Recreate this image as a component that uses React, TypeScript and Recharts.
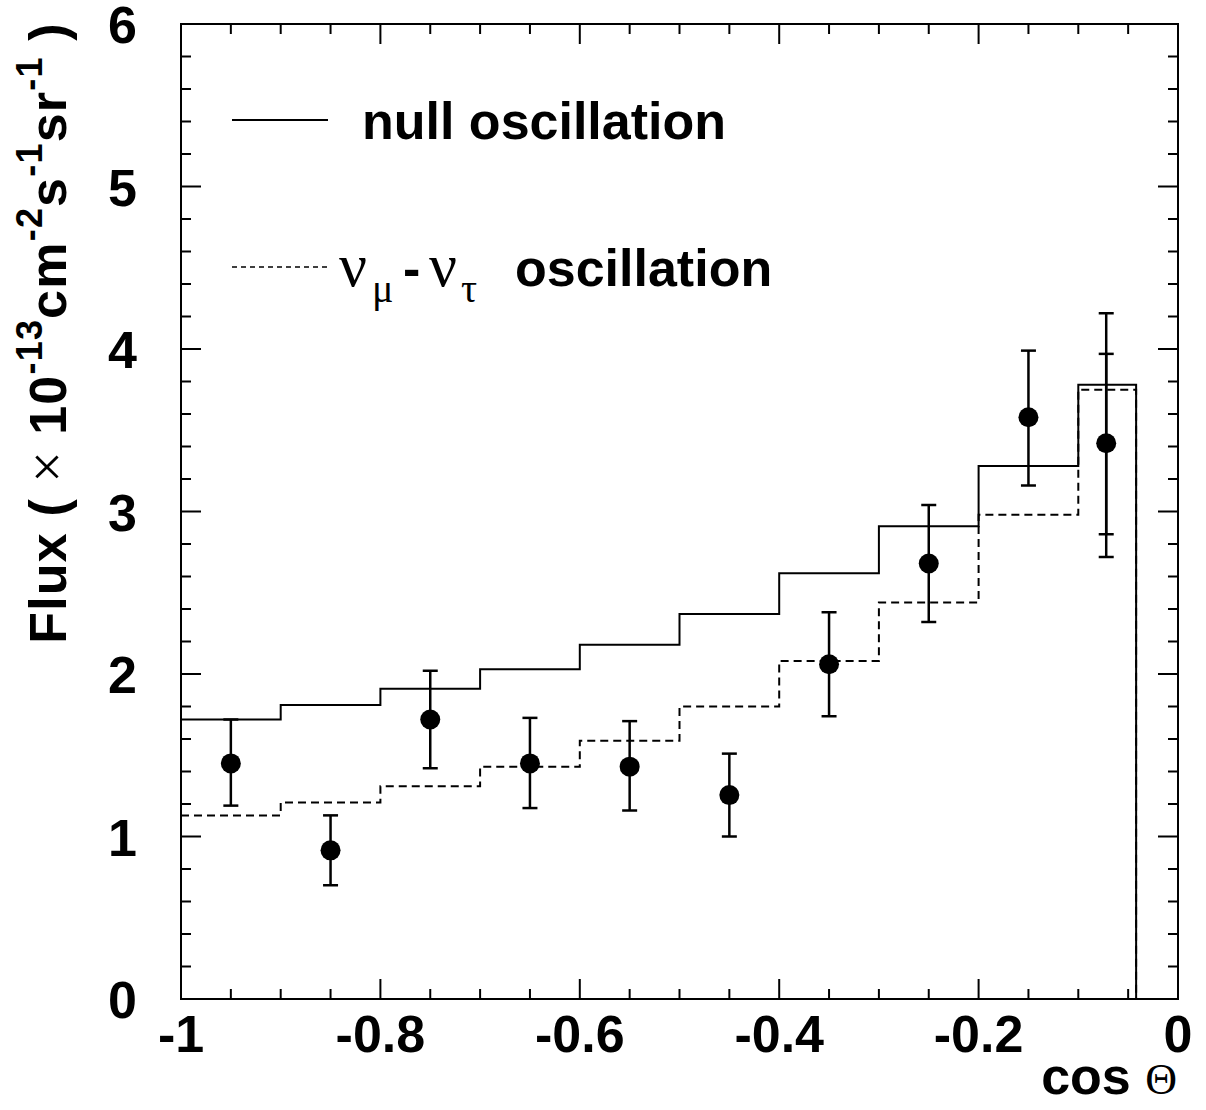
import { ComposedChart, Line, Scatter, ErrorBar, XAxis, YAxis, Legend } from "recharts";

// histogram bin edges in cos(theta); the last bin stops short of 0
const binEdges = [-1, -0.9, -0.8, -0.7, -0.6, -0.5, -0.4, -0.3, -0.2, -0.1, -0.042];
const nullFlux = [1.72, 1.81, 1.91, 2.03, 2.18, 2.37, 2.62, 2.91, 3.28, 3.78];
const oscFlux = [1.13, 1.21, 1.31, 1.43, 1.59, 1.8, 2.08, 2.44, 2.98, 3.75];

// measured points with total error range
const pointCos = [-0.95, -0.85, -0.75, -0.65, -0.55, -0.45, -0.35, -0.25, -0.15, -0.072];
const pointFlux = [1.45, 0.915, 1.72, 1.45, 1.43, 1.255, 2.06, 2.68, 3.58, 3.42];
const pointHigh = [1.72, 1.13, 2.02, 1.73, 1.71, 1.51, 2.38, 3.04, 3.99, 4.22];
const pointLow = [1.19, 0.7, 1.42, 1.175, 1.16, 1.0, 1.74, 2.32, 3.16, 2.72];

// inner (statistical) error of the last point
const statCos = [-0.072];
const statFlux = [3.42];
const statHigh = [3.97];
const statLow = [2.86];

const xTicks = [
  -1, -0.95, -0.9, -0.85, -0.8, -0.75, -0.7, -0.65, -0.6, -0.55, -0.5,
  -0.45, -0.4, -0.35, -0.3, -0.25, -0.2, -0.15, -0.1, -0.05, 0,
];
const yTicks = [
  0, 0.2, 0.4, 0.6, 0.8, 1, 1.2, 1.4, 1.6, 1.8, 2, 2.2, 2.4, 2.6, 2.8, 3,
  3.2, 3.4, 3.6, 3.8, 4, 4.2, 4.4, 4.6, 4.8, 5, 5.2, 5.4, 5.6, 5.8, 6,
];

const font = "'Liberation Sans', Arial, Helvetica, sans-serif";
const serif = "'Liberation Serif', 'Times New Roman', serif";

const steps = (vals: number[]) => {
  const pts = binEdges.map((x, i) => ({ x, y: vals[Math.min(i, vals.length - 1)] }));
  pts.push({ x: binEdges[binEdges.length - 1], y: 0 });
  return pts;
};

const nullData = steps(nullFlux);
const oscData = steps(oscFlux);

const points = pointCos.map((x, i) => ({
  x,
  y: pointFlux[i],
  err: [pointFlux[i] - pointLow[i], pointHigh[i] - pointFlux[i]],
}));
const statPoints = statCos.map((x, i) => ({
  x,
  y: statFlux[i],
  err: [statFlux[i] - statLow[i], statHigh[i] - statFlux[i]],
}));

const isMajorX = (v: number) => Math.abs(v * 5 - Math.round(v * 5)) < 1e-6;
const isMajorY = (v: number) => Math.abs(v - Math.round(v)) < 1e-6;

function BottomTick({ x, y, payload }: any) {
  const major = isMajorX(payload.value);
  return (
    <g>
      <line x1={x} x2={x} y1={y} y2={y - (major ? 20 : 10)} stroke="#000" strokeWidth={2} />
      {major && (
        <text x={x} y={y + 53} textAnchor="middle" fontFamily={font} fontWeight="bold" fontSize={52} fill="#000">
          {String(payload.value)}
        </text>
      )}
    </g>
  );
}

function TopTick({ x, y, payload }: any) {
  const major = isMajorX(payload.value);
  return <line x1={x} x2={x} y1={y} y2={y + (major ? 20 : 10)} stroke="#000" strokeWidth={2} />;
}

function LeftTick({ x, y, payload }: any) {
  const major = isMajorY(payload.value);
  return (
    <g>
      <line x1={x} x2={x + (major ? 20 : 10)} y1={y} y2={y} stroke="#000" strokeWidth={2} />
      {major && (
        <text x={x - 44} y={y + 19} textAnchor="end" fontFamily={font} fontWeight="bold" fontSize={52} fill="#000">
          {String(payload.value)}
        </text>
      )}
    </g>
  );
}

function RightTick({ x, y, payload }: any) {
  const major = isMajorY(payload.value);
  return <line x1={x} x2={x - (major ? 20 : 10)} y1={y} y2={y} stroke="#000" strokeWidth={2} />;
}

function YTitle() {
  const sup = { fontSize: 36 };
  return (
    <text transform="translate(66,333) rotate(-90)" textAnchor="middle" fontFamily={font} fontWeight="bold"
      fontSize={52} letterSpacing={1.2} fill="#000">
      Flux (
      <tspan fontFamily={serif} fontWeight="normal" fontSize={56}> × </tspan>
      10
      <tspan {...sup} dy={-24}>-13</tspan>
      <tspan dy={24}>cm</tspan>
      <tspan {...sup} dy={-24}>-2</tspan>
      <tspan dy={24}>s</tspan>
      <tspan {...sup} dy={-24}>-1</tspan>
      <tspan dy={24}>sr</tspan>
      <tspan {...sup} dy={-24}>-1</tspan>
      <tspan dy={24}> )</tspan>
    </text>
  );
}

function XTitle() {
  return (
    <text x={1177} y={1094} textAnchor="end" fontFamily={font} fontWeight="bold" fontSize={52} fill="#000">
      cos <tspan fontFamily={serif} fontWeight="normal" fontSize={44}>Θ</tspan>
    </text>
  );
}

function LegendBox() {
  const greek = { fontFamily: serif, fontWeight: "normal" as const };
  return (
    <svg width={900} height={320} style={{ position: "absolute", left: 0, top: 0, overflow: "visible" }}>
      <line x1={232} x2={328} y1={120} y2={120} stroke="#000" strokeWidth={2} />
      <text x={362} y={139} fontFamily={font} fontWeight="bold" fontSize={52} fill="#000">
        null oscillation
      </text>
      <line x1={232} x2={328} y1={267} y2={267} stroke="#000" strokeWidth={1.5} strokeDasharray="5 4" />
      <text y={286} fontFamily={font} fontWeight="bold" fontSize={52} fill="#000">
        <tspan {...greek} x={339} fontSize={62}>ν</tspan>
        <tspan {...greek} x={372} y={302} fontSize={40}>μ</tspan>
        <tspan x={403} y={286}>-</tspan>
        <tspan {...greek} x={429} fontSize={62}>ν</tspan>
        <tspan {...greek} x={461} y={302} fontSize={40}>τ</tspan>
        <tspan x={515} y={286}>oscillation</tspan>
      </text>
    </svg>
  );
}

function Dot(props: any) {
  return <circle cx={props.cx} cy={props.cy} r={10} fill="#000" />;
}

const frame = { stroke: "#000", strokeWidth: 2, strokeLinecap: "square" as const };

export default function App() {
  return (
    <div style={{ position: "absolute", left: 0, top: 0, background: "#fff" }}>
      <ComposedChart width={1206} height={1110} margin={{ top: 23, right: 27, bottom: 110, left: 180 }}>
        <XAxis xAxisId={0} dataKey="x" type="number" domain={[-1, 0]} allowDataOverflow ticks={xTicks} interval={0}
          orientation="bottom" height={1} tickSize={0} tickMargin={0} tickLine={false} axisLine={frame} tick={<BottomTick />}
          label={<XTitle />} />
        <XAxis xAxisId="top" dataKey="x" type="number" domain={[-1, 0]} allowDataOverflow ticks={xTicks} interval={0}
          orientation="top" height={1} tickSize={0} tickMargin={0} tickLine={false} axisLine={frame} tick={<TopTick />} />
        <YAxis yAxisId={0} dataKey="y" type="number" domain={[0, 6]} allowDataOverflow ticks={yTicks} interval={0}
          orientation="left" width={1} tickSize={0} tickMargin={0} tickLine={false} axisLine={frame} tick={<LeftTick />}
          label={<YTitle />} />
        <YAxis yAxisId="right" dataKey="y" type="number" domain={[0, 6]} allowDataOverflow ticks={yTicks} interval={0}
          orientation="right" width={1} tickSize={0} tickMargin={0} tickLine={false} axisLine={frame} tick={<RightTick />} />
        <Line data={nullData} dataKey="y" type="stepAfter" stroke="#000" strokeWidth={2} dot={false} isAnimationActive={false} />
        <Line data={oscData} dataKey="y" type="stepAfter" stroke="#000" strokeWidth={2} strokeDasharray="8 5" dot={false} isAnimationActive={false} />
        <Scatter data={statPoints} dataKey="y" shape={() => <g />} isAnimationActive={false}>
          <ErrorBar dataKey="err" direction="y" width={7.5} stroke="#000" strokeWidth={2.5} />
        </Scatter>
        <Scatter data={points} dataKey="y" shape={<Dot />} isAnimationActive={false}>
          <ErrorBar dataKey="err" direction="y" width={7.5} stroke="#000" strokeWidth={2.5} />
        </Scatter>
        <Legend layout="horizontal" verticalAlign="middle" align="center" wrapperStyle={{ left: 0, top: 0, width: 0, height: 0 }}
          content={() => <LegendBox />} />
      </ComposedChart>
    </div>
  );
}
